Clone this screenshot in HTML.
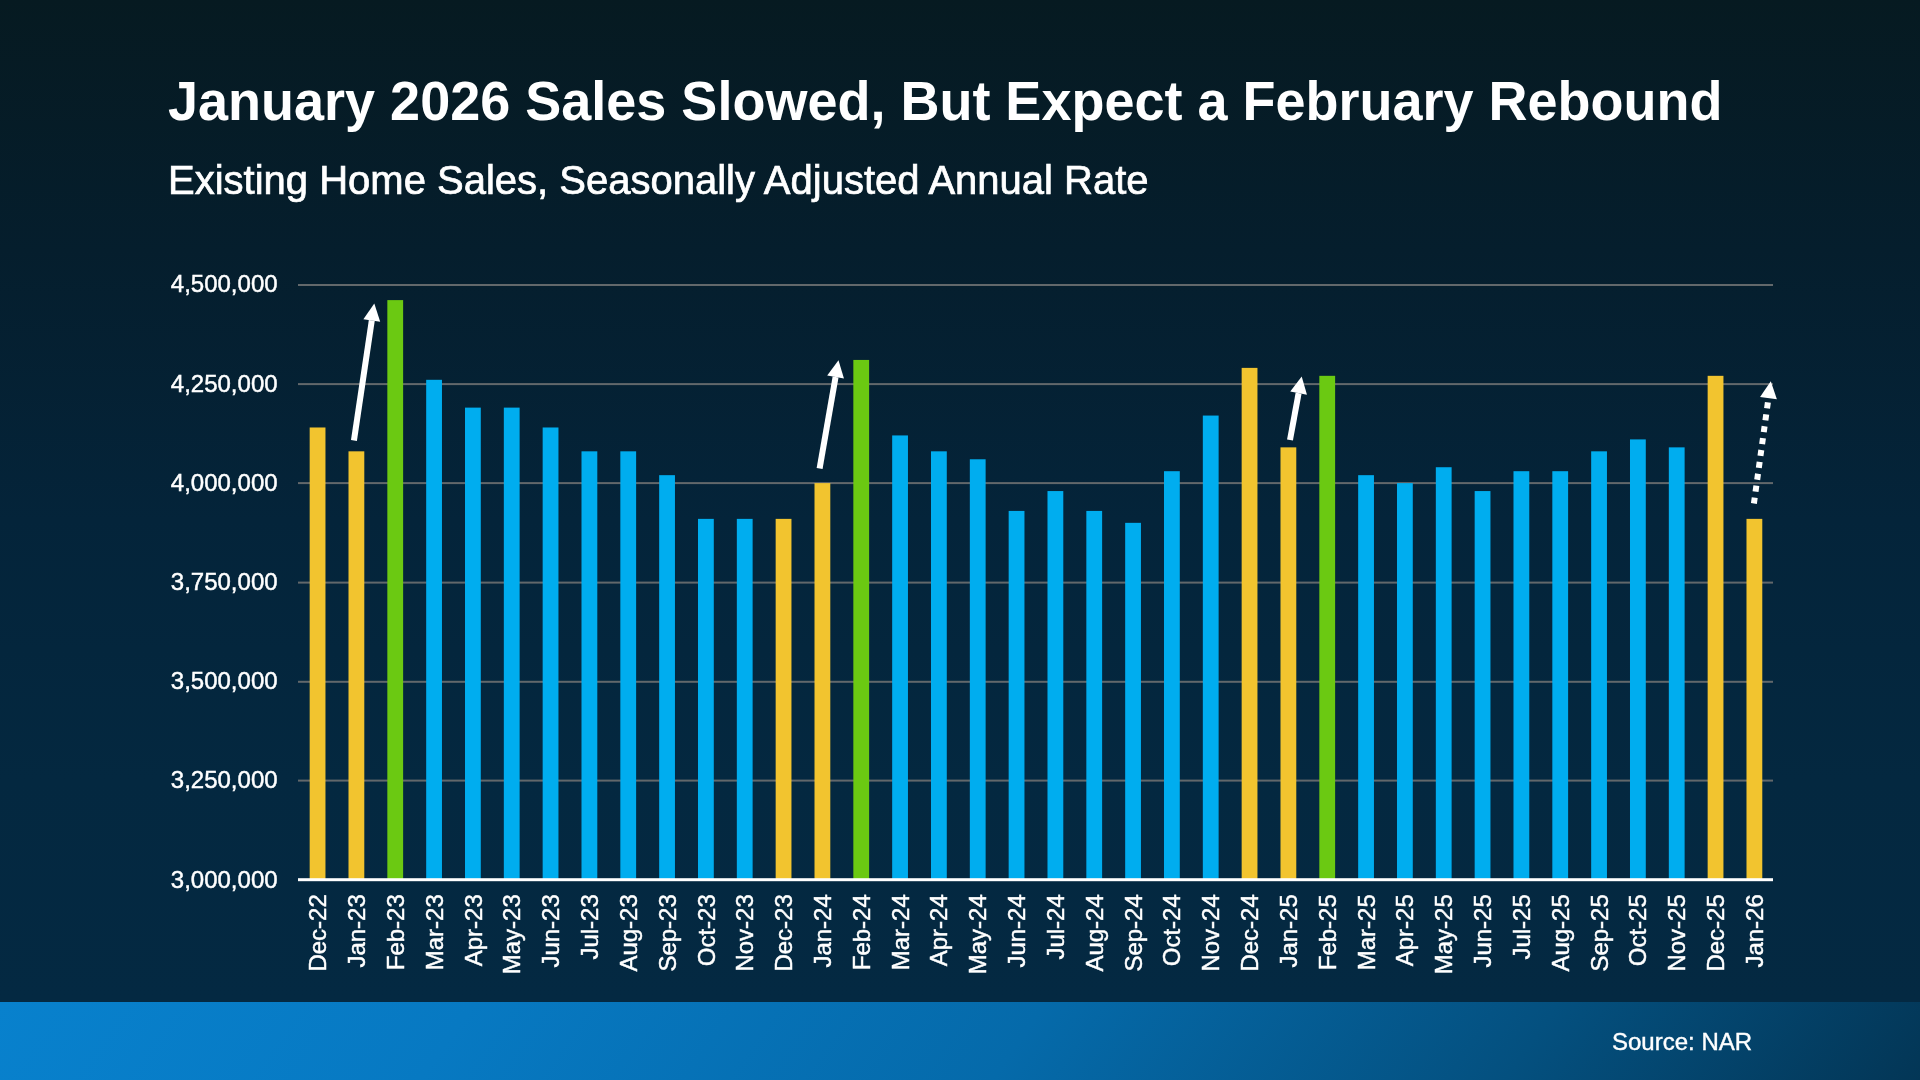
<!DOCTYPE html>
<html lang="en"><head><meta charset="utf-8"><title>Existing Home Sales</title>
<style>
html,body{margin:0;padding:0}
body{width:1920px;height:1080px;overflow:hidden;position:relative;
 font-family:"Liberation Sans",sans-serif;color:#fff;
 background:linear-gradient(180deg,#061a21 0px,#051e2d 250px,#04243a 520px,#042840 780px,#042942 1002px,#042942 1080px)}
#title{position:absolute;left:167.9px;top:70.1px;will-change:transform;transform-origin:0 50.5px;transform:scaleY(1.025);margin:0;font-size:54px;line-height:62px;font-weight:bold;white-space:nowrap;letter-spacing:0px}
#sub{position:absolute;left:167.9px;top:156.5px;will-change:transform;transform-origin:0 36.5px;transform:scaleY(1.025);-webkit-text-stroke:0.7px #fff;margin:0;font-size:40px;line-height:47px;font-weight:normal;white-space:nowrap;letter-spacing:0px}
#chart{position:absolute;left:0;top:0;will-change:transform}
.ax{font-family:"Liberation Sans",sans-serif;font-size:24px;fill:#fff;stroke:#fff;stroke-width:0.45px}
#foot{position:absolute;left:0;top:1002px;width:1920px;height:78px;
 background:linear-gradient(125deg,#0881cd 0%,#0779c2 24%,#056aaa 53%,#04507f 79%,#033656 100%)}
#src{will-change:transform;-webkit-text-stroke:0.4px #fff;position:absolute;left:1611.5px;top:1027.7px;font-size:24px;line-height:28px;white-space:nowrap}
</style></head>
<body>
<h1 id="title">January 2026 Sales Slowed, But Expect a February Rebound</h1>
<h2 id="sub">Existing Home Sales, Seasonally Adjusted Annual Rate</h2>
<svg id="chart" width="1920" height="1080" viewBox="0 0 1920 1080" shape-rendering="auto">
<rect x="298.0" y="284.00" width="1475.0" height="2" fill="#62686b"/>
<rect x="298.0" y="383.10" width="1475.0" height="2" fill="#62686b"/>
<rect x="298.0" y="482.10" width="1475.0" height="2" fill="#62686b"/>
<rect x="298.0" y="581.60" width="1475.0" height="2" fill="#62686b"/>
<rect x="298.0" y="680.80" width="1475.0" height="2" fill="#62686b"/>
<rect x="298.0" y="779.60" width="1475.0" height="2" fill="#62686b"/>
<rect x="309.67" y="427.48" width="15.8" height="452.22" fill="#f2c42f"/>
<rect x="348.50" y="451.32" width="15.8" height="428.38" fill="#f2c42f"/>
<rect x="387.33" y="300.10" width="15.8" height="579.60" fill="#6bc912"/>
<rect x="426.17" y="379.80" width="15.8" height="499.90" fill="#00adef"/>
<rect x="465.00" y="407.62" width="15.8" height="472.08" fill="#00adef"/>
<rect x="503.83" y="407.62" width="15.8" height="472.08" fill="#00adef"/>
<rect x="542.66" y="427.48" width="15.8" height="452.22" fill="#00adef"/>
<rect x="581.50" y="451.32" width="15.8" height="428.38" fill="#00adef"/>
<rect x="620.33" y="451.32" width="15.8" height="428.38" fill="#00adef"/>
<rect x="659.16" y="475.16" width="15.8" height="404.54" fill="#00adef"/>
<rect x="698.00" y="518.87" width="15.8" height="360.83" fill="#00adef"/>
<rect x="736.83" y="518.87" width="15.8" height="360.83" fill="#00adef"/>
<rect x="775.66" y="518.87" width="15.8" height="360.83" fill="#f2c42f"/>
<rect x="814.50" y="483.11" width="15.8" height="396.59" fill="#f2c42f"/>
<rect x="853.33" y="359.93" width="15.8" height="519.77" fill="#6bc912"/>
<rect x="892.16" y="435.43" width="15.8" height="444.27" fill="#00adef"/>
<rect x="930.99" y="451.32" width="15.8" height="428.38" fill="#00adef"/>
<rect x="969.83" y="459.27" width="15.8" height="420.43" fill="#00adef"/>
<rect x="1008.66" y="510.92" width="15.8" height="368.78" fill="#00adef"/>
<rect x="1047.49" y="491.06" width="15.8" height="388.64" fill="#00adef"/>
<rect x="1086.33" y="510.92" width="15.8" height="368.78" fill="#00adef"/>
<rect x="1125.16" y="522.84" width="15.8" height="356.86" fill="#00adef"/>
<rect x="1163.99" y="471.19" width="15.8" height="408.51" fill="#00adef"/>
<rect x="1202.83" y="415.56" width="15.8" height="464.14" fill="#00adef"/>
<rect x="1241.66" y="367.88" width="15.8" height="511.82" fill="#f2c42f"/>
<rect x="1280.49" y="447.35" width="15.8" height="432.35" fill="#f2c42f"/>
<rect x="1319.32" y="375.83" width="15.8" height="503.87" fill="#6bc912"/>
<rect x="1358.16" y="475.16" width="15.8" height="404.54" fill="#00adef"/>
<rect x="1396.99" y="483.11" width="15.8" height="396.59" fill="#00adef"/>
<rect x="1435.82" y="467.22" width="15.8" height="412.48" fill="#00adef"/>
<rect x="1474.66" y="491.06" width="15.8" height="388.64" fill="#00adef"/>
<rect x="1513.49" y="471.19" width="15.8" height="408.51" fill="#00adef"/>
<rect x="1552.32" y="471.19" width="15.8" height="408.51" fill="#00adef"/>
<rect x="1591.16" y="451.32" width="15.8" height="428.38" fill="#00adef"/>
<rect x="1629.99" y="439.40" width="15.8" height="440.30" fill="#00adef"/>
<rect x="1668.82" y="447.35" width="15.8" height="432.35" fill="#00adef"/>
<rect x="1707.65" y="375.83" width="15.8" height="503.87" fill="#f2c42f"/>
<rect x="1746.49" y="518.87" width="15.8" height="360.83" fill="#f2c42f"/>
<rect x="298.0" y="878.2" width="1475.0" height="3" fill="#ffffff"/>
<text x="277.6" y="292.40" text-anchor="end" class="ax">4,500,000</text>
<text x="277.6" y="391.50" text-anchor="end" class="ax">4,250,000</text>
<text x="277.6" y="490.50" text-anchor="end" class="ax">4,000,000</text>
<text x="277.6" y="590.00" text-anchor="end" class="ax">3,750,000</text>
<text x="277.6" y="689.20" text-anchor="end" class="ax">3,500,000</text>
<text x="277.6" y="788.00" text-anchor="end" class="ax">3,250,000</text>
<text x="277.6" y="887.75" text-anchor="end" class="ax">3,000,000</text>
<text transform="translate(326.17,894.2) rotate(-90)" text-anchor="end" class="ax">Dec-22</text>
<text transform="translate(365.00,894.2) rotate(-90)" text-anchor="end" class="ax">Jan-23</text>
<text transform="translate(403.83,894.2) rotate(-90)" text-anchor="end" class="ax">Feb-23</text>
<text transform="translate(442.67,894.2) rotate(-90)" text-anchor="end" class="ax">Mar-23</text>
<text transform="translate(481.50,894.2) rotate(-90)" text-anchor="end" class="ax">Apr-23</text>
<text transform="translate(520.33,894.2) rotate(-90)" text-anchor="end" class="ax">May-23</text>
<text transform="translate(559.16,894.2) rotate(-90)" text-anchor="end" class="ax">Jun-23</text>
<text transform="translate(598.00,894.2) rotate(-90)" text-anchor="end" class="ax">Jul-23</text>
<text transform="translate(636.83,894.2) rotate(-90)" text-anchor="end" class="ax">Aug-23</text>
<text transform="translate(675.66,894.2) rotate(-90)" text-anchor="end" class="ax">Sep-23</text>
<text transform="translate(714.50,894.2) rotate(-90)" text-anchor="end" class="ax">Oct-23</text>
<text transform="translate(753.33,894.2) rotate(-90)" text-anchor="end" class="ax">Nov-23</text>
<text transform="translate(792.16,894.2) rotate(-90)" text-anchor="end" class="ax">Dec-23</text>
<text transform="translate(831.00,894.2) rotate(-90)" text-anchor="end" class="ax">Jan-24</text>
<text transform="translate(869.83,894.2) rotate(-90)" text-anchor="end" class="ax">Feb-24</text>
<text transform="translate(908.66,894.2) rotate(-90)" text-anchor="end" class="ax">Mar-24</text>
<text transform="translate(947.49,894.2) rotate(-90)" text-anchor="end" class="ax">Apr-24</text>
<text transform="translate(986.33,894.2) rotate(-90)" text-anchor="end" class="ax">May-24</text>
<text transform="translate(1025.16,894.2) rotate(-90)" text-anchor="end" class="ax">Jun-24</text>
<text transform="translate(1063.99,894.2) rotate(-90)" text-anchor="end" class="ax">Jul-24</text>
<text transform="translate(1102.83,894.2) rotate(-90)" text-anchor="end" class="ax">Aug-24</text>
<text transform="translate(1141.66,894.2) rotate(-90)" text-anchor="end" class="ax">Sep-24</text>
<text transform="translate(1180.49,894.2) rotate(-90)" text-anchor="end" class="ax">Oct-24</text>
<text transform="translate(1219.33,894.2) rotate(-90)" text-anchor="end" class="ax">Nov-24</text>
<text transform="translate(1258.16,894.2) rotate(-90)" text-anchor="end" class="ax">Dec-24</text>
<text transform="translate(1296.99,894.2) rotate(-90)" text-anchor="end" class="ax">Jan-25</text>
<text transform="translate(1335.82,894.2) rotate(-90)" text-anchor="end" class="ax">Feb-25</text>
<text transform="translate(1374.66,894.2) rotate(-90)" text-anchor="end" class="ax">Mar-25</text>
<text transform="translate(1413.49,894.2) rotate(-90)" text-anchor="end" class="ax">Apr-25</text>
<text transform="translate(1452.32,894.2) rotate(-90)" text-anchor="end" class="ax">May-25</text>
<text transform="translate(1491.16,894.2) rotate(-90)" text-anchor="end" class="ax">Jun-25</text>
<text transform="translate(1529.99,894.2) rotate(-90)" text-anchor="end" class="ax">Jul-25</text>
<text transform="translate(1568.82,894.2) rotate(-90)" text-anchor="end" class="ax">Aug-25</text>
<text transform="translate(1607.66,894.2) rotate(-90)" text-anchor="end" class="ax">Sep-25</text>
<text transform="translate(1646.49,894.2) rotate(-90)" text-anchor="end" class="ax">Oct-25</text>
<text transform="translate(1685.32,894.2) rotate(-90)" text-anchor="end" class="ax">Nov-25</text>
<text transform="translate(1724.15,894.2) rotate(-90)" text-anchor="end" class="ax">Dec-25</text>
<text transform="translate(1762.99,894.2) rotate(-90)" text-anchor="end" class="ax">Jan-26</text>
<polygon fill="#fff" points="356.92,440.94 374.77,320.86 368.83,319.97 350.98,440.06"/><polygon fill="#fff" points="374.30,303.60 380.21,321.67 363.39,319.17"/>
<polygon fill="#fff" points="822.56,468.92 838.53,377.46 832.62,376.43 816.64,467.88"/><polygon fill="#fff" points="838.50,360.20 843.95,378.41 827.20,375.48"/>
<polygon fill="#fff" points="1292.95,440.54 1301.57,393.66 1295.67,392.58 1287.05,439.46"/><polygon fill="#fff" points="1301.70,376.40 1306.98,394.66 1290.26,391.58"/>
<line x1="1753.90" y1="503.50" x2="1768.47" y2="398.14" stroke="#fff" stroke-width="6.0" stroke-dasharray="6 6"/><polygon fill="#fff" points="1770.80,381.30 1776.89,399.30 1760.05,396.98"/>
</svg>
<div id="foot"></div>
<div id="src">Source: NAR</div>
</body></html>
